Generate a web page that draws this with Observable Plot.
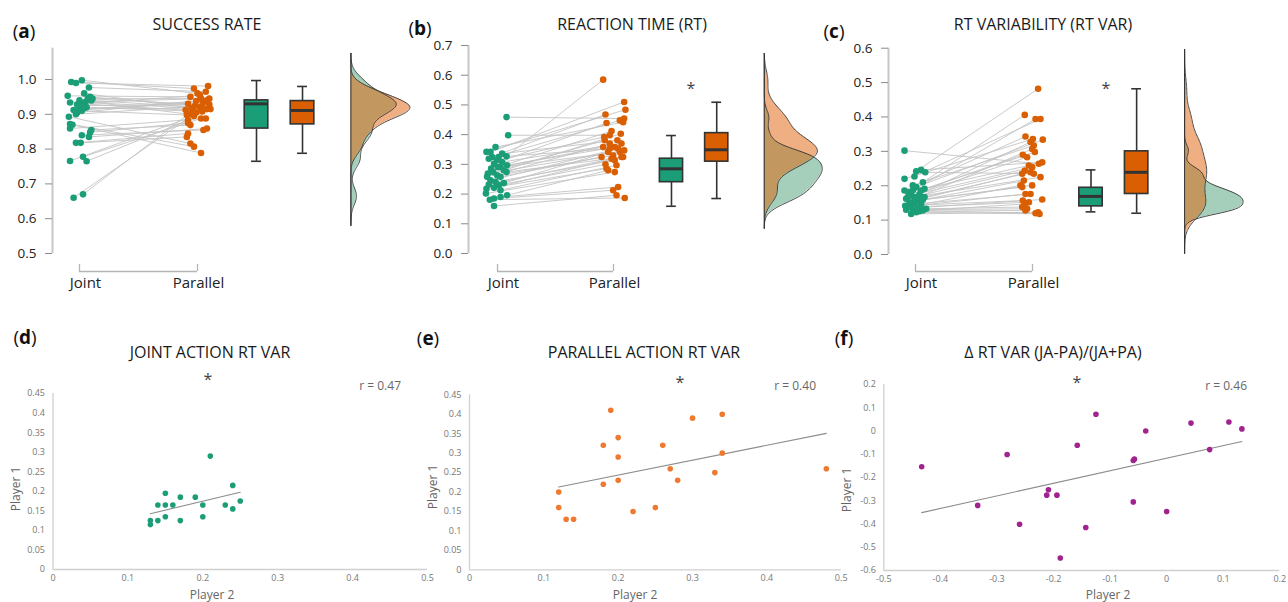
<!DOCTYPE html>
<html><head><meta charset="utf-8">
<script src="https://cdn.jsdelivr.net/npm/d3@7"></script>
<script src="https://cdn.jsdelivr.net/npm/@observablehq/plot@0.6"></script>
<style>
body{margin:0;background:#fff;}
#fig{position:relative;width:1288px;height:602px;overflow:hidden;background:#fff;font-family:'Open Sans',sans-serif;}
.lbl{position:absolute;white-space:nowrap;line-height:1;transform:translate(-50%,-50%);color:#222;}
</style></head><body><div id="fig"></div>
<script>
// ---------- DATA ----------
const conditions = ["Joint", "Parallel"];

// (a) success rate, paired per participant
const jointA = [0.993,0.990,0.998,0.977,0.953,0.934,0.912,0.912,0.945,0.950,0.940,0.935,0.930,0.925,0.920,0.928,0.918,0.940,0.893,0.872,0.870,0.859,0.855,0.848,0.835,0.840,0.818,0.818,0.766,0.778,0.765,0.660,0.670,0.960,0.905,0.910,0.945,0.900];
const jointAJit = [-0.07,-0.03,0.02,0.08,-0.10,-0.08,-0.05,-0.01,0.07,0.09,0.10,0.05,0.03,0.01,0.06,-0.02,0.04,0.00,-0.09,-0.08,-0.06,-0.08,0.10,0.09,0.08,0.02,-0.03,0.01,-0.08,0.03,0.06,-0.05,0.03,0.04,-0.02,0.02,0.11,-0.03];
const parallelA = [0.974,0.981,0.960,0.965,0.950,0.945,0.940,0.935,0.930,0.925,0.920,0.915,0.912,0.928,0.908,0.955,0.915,0.900,0.816,0.807,0.789,0.888,0.869,0.875,0.859,0.855,0.845,0.835,0.895,0.888,0.883,0.905,0.910,0.918,0.938,0.898,0.945,0.925];
const parallelAJit = [-0.03,0.09,0.00,0.07,-0.06,0.03,0.08,0.05,-0.08,-0.02,0.02,0.08,-0.10,0.10,0.04,0.02,0.11,-0.07,-0.06,-0.03,0.03,0.07,-0.06,-0.08,0.08,0.05,-0.08,-0.09,-0.03,0.03,-0.08,-0.01,-0.04,-0.05,-0.01,-0.09,0.10,0.04];
// box stats: [lower whisker, Q1, median, Q3, upper whisker]
const boxAJoint = [0.765, 0.859, 0.930, 0.940, 0.997];
const boxAParallel = [0.788, 0.871, 0.911, 0.938, 0.980];

// (b) reaction time
const jointB = [0.160,0.181,0.185,0.190,0.196,0.202,0.213,0.218,0.221,0.230,0.232,0.237,0.241,0.246,0.258,0.258,0.263,0.269,0.274,0.274,0.280,0.286,0.291,0.291,0.297,0.302,0.308,0.314,0.319,0.325,0.325,0.327,0.336,0.342,0.342,0.358,0.398,0.459];
const jointBJit = [-0.03,-0.066,-0.03,0.026,0.083,-0.10,0.026,-0.095,-0.03,0.01,-0.075,0.055,-0.017,-0.06,0.026,-0.09,-0.003,-0.083,-0.037,0.078,0.055,-0.055,0.026,0.003,0.083,-0.03,0.04,-0.003,-0.075,0.01,-0.046,0.078,0.04,-0.095,-0.06,-0.017,0.092,0.078];
const parallelB = [0.196,0.187,0.213,0.224,0.280,0.274,0.297,0.286,0.325,0.300,0.319,0.342,0.314,0.353,0.325,0.370,0.330,0.347,0.381,0.325,0.403,0.358,0.342,0.412,0.358,0.439,0.370,0.392,0.448,0.353,0.468,0.585,0.381,0.484,0.510,0.442,0.398,0.454];
const parallelBJit = [0.026,0.097,-0.003,0.04,-0.046,0.011,0.026,-0.06,0.069,-0.069,-0.017,-0.046,0.011,0.04,-0.103,-0.032,-0.003,0.092,-0.075,0.083,0.063,-0.089,0.055,-0.017,0.011,-0.06,0.069,-0.08,0.055,-0.032,-0.069,-0.089,0.034,0.103,0.092,0.083,-0.032,0.092];
const boxBJoint = [0.159, 0.240, 0.285, 0.319, 0.397];
const boxBParallel = [0.185, 0.309, 0.349, 0.405, 0.509];

// (c) RT variability
const jointC = [0.118,0.123,0.126,0.128,0.128,0.130,0.133,0.136,0.138,0.140,0.142,0.145,0.147,0.152,0.157,0.157,0.159,0.162,0.167,0.167,0.167,0.167,0.172,0.176,0.181,0.186,0.186,0.186,0.191,0.196,0.201,0.210,0.220,0.227,0.239,0.242,0.246,0.302];
const jointCJit = [-0.037,0.006,0.034,-0.023,0.063,-0.08,0.091,0.02,-0.037,-0.051,-0.088,0.048,-0.009,-0.051,0.02,-0.009,0.063,-0.08,-0.009,-0.066,0.077,0.026,-0.037,0.034,-0.06,-0.094,0.048,-0.023,0.077,0.006,-0.023,0.063,-0.094,-0.009,0.083,0.006,0.048,-0.094];
const parallelC = [0.123,0.118,0.128,0.120,0.147,0.133,0.138,0.160,0.152,0.176,0.157,0.201,0.176,0.215,0.196,0.235,0.201,0.244,0.225,0.283,0.239,0.307,0.254,0.327,0.259,0.343,0.290,0.394,0.298,0.334,0.317,0.406,0.336,0.394,0.235,0.482,0.268,0.264];
const parallelCJit = [0.048,0.06,-0.06,0.026,-0.066,-0.046,-0.088,0.083,-0.031,-0.06,-0.083,-0.103,-0.017,-0.074,-0.088,-0.088,-0.003,-0.066,0.068,-0.046,-0.017,-0.003,-0.003,-0.017,-0.031,-0.06,-0.083,0.026,0.02,0.088,0.011,-0.066,0.003,0.068,0.011,0.048,0.083,0.054];
const boxCJoint = [0.124, 0.140, 0.169, 0.194, 0.246];
const boxCParallel = [0.120, 0.176, 0.239, 0.300, 0.482];

// (d) joint action RT var: player 2 (x) vs player 1 (y)
const dPlayer2 = [0.13,0.13,0.14,0.15,0.14,0.15,0.15,0.16,0.17,0.17,0.19,0.20,0.20,0.21,0.23,0.24,0.24,0.25];
const dPlayer1 = [0.125,0.115,0.125,0.135,0.165,0.165,0.195,0.165,0.185,0.125,0.185,0.165,0.135,0.29,0.165,0.215,0.155,0.175];
// (e) parallel action RT var
const ePlayer2 = [0.12,0.12,0.13,0.14,0.18,0.18,0.19,0.20,0.20,0.20,0.22,0.25,0.26,0.27,0.28,0.30,0.33,0.34,0.34,0.48];
const ePlayer1 = [0.20,0.16,0.13,0.13,0.32,0.22,0.41,0.34,0.29,0.23,0.15,0.16,0.32,0.26,0.23,0.39,0.25,0.40,0.30,0.26];
// (f) delta RT var
const fPlayer2 = [-0.433,-0.334,-0.282,-0.260,-0.212,-0.209,-0.194,-0.188,-0.158,-0.143,-0.125,-0.059,-0.057,-0.059,-0.037,0.0,0.043,0.076,0.110,0.133];
const fPlayer1 = [-0.154,-0.320,-0.101,-0.401,-0.276,-0.253,-0.276,-0.546,-0.061,-0.415,0.072,-0.127,-0.121,-0.305,0.0,-0.346,0.034,-0.080,0.039,0.009];

const ticksA = [0.5,0.6,0.7,0.8,0.9,1.0];
const ticksB = [0,0.1,0.2,0.3,0.4,0.5,0.6,0.7];
const ticksC = [0,0.1,0.2,0.3,0.4,0.5,0.6];
const ticksDEy = [0,0.05,0.1,0.15,0.2,0.25,0.3,0.35,0.4,0.45];
const ticksDEx = [0,0.1,0.2,0.3,0.4,0.5];
const ticksFx = [-0.5,-0.4,-0.3,-0.2,-0.1,0,0.1,0.2];
const ticksFy = [0.2,0.1,0,-0.1,-0.2,-0.3,-0.4,-0.5,-0.6];

// ---------- STYLE ----------
const GREEN = "#1b9e77", ORANGE = "#d95f02";
const FONT = "'Open Sans', sans-serif";
const fig = document.getElementById("fig");

function kde(values, bw, range, n = 160) {
  const out = [];
  for (let i = 0; i <= n; i++) {
    const y = range[0] + (range[1] - range[0]) * i / n;
    const d = d3.mean(values, v => Math.exp(-0.5 * ((y - v) / bw) ** 2)) / (bw * Math.sqrt(2 * Math.PI));
    out.push({y, d});
  }
  return out;
}

function place(svg, left, top) {
  svg.style.position = "absolute";
  svg.style.left = left + "px";
  svg.style.top = top + "px";
  svg.style.background = "transparent";
  svg.style.maxWidth = "none";
  svg.style.overflow = "visible";
  fig.appendChild(svg);
}

function label(html, x, y, css = "", anchor = "middle") {
  const d = document.createElement("div");
  d.className = "lbl";
  d.innerHTML = html;
  d.style.left = x + "px";
  d.style.top = y + "px";
  if (anchor === "end") d.style.transform = "translate(-100%,-50%)";
  d.style.cssText += css;
  fig.appendChild(d);
  return d;
}

function topPanel(cfg) {
  const {left, width, height, marginLeft, marginTop, marginBottom, xDomain, yDomain, yTicks, axisTop,
         joint, jointJit, par, parJit, boxJ, boxP, bw, densRange} = cfg;
  const ppu = (height - marginTop - marginBottom) / (yDomain[1] - yDomain[0]);
  const yAt = px => yDomain[0] - (px - (height - marginBottom)) / ppu;
  const pairs = joint.map((j, i) => ({j, jx: 1 + jointJit[i], p: par[i], px: 2 + parJit[i]}));
  const base = 3.3, dw = 0.5, hw = 0.1, cap = 0.042;
  const densJ = kde(joint, bw[0], densRange), densP = kde(par, bw[1], densRange);
  const maxD = d3.max([...densJ, ...densP], d => d.d);
  const dx = d => base + d.d / maxD * dw;
  const boxMarks = [];
  [[2.5, boxJ, GREEN], [2.89, boxP, ORANGE]].forEach(([pos, s, c]) => {
    boxMarks.push(
      Plot.ruleX([pos], {y1: s[0], y2: s[4], stroke: "#333", strokeWidth: 1.6}),
      Plot.ruleY([s[0], s[4]], {x1: pos - cap, x2: pos + cap, stroke: "#333", strokeWidth: 1.6}),
      Plot.rect([s], {x1: pos - hw, x2: pos + hw, y1: d => d[1], y2: d => d[3], fill: c, stroke: "#333", strokeWidth: 1.6}),
      Plot.ruleY([s[2]], {x1: pos - hw, x2: pos + hw, stroke: "#333", strokeWidth: 3})
    );
  });
  const svg = Plot.plot({
    width, height, marginLeft, marginRight: 0, marginTop, marginBottom,
    x: {domain: xDomain, axis: null},
    y: {domain: yDomain},
    style: {fontFamily: FONT, background: "transparent", overflow: "visible"},
    marks: [
      Plot.ruleX([xDomain[0]], {y1: yDomain[0], y2: axisTop, stroke: "#c6c6c6", strokeWidth: 2}),
      Plot.axisY({ticks: yTicks, tickSize: 7, tickPadding: 9, tickFormat: d3.format(".1f"), stroke: "#8a8a8a", fill: "#222", fontSize: 13.5, label: null}),
      Plot.ruleY([yAt(271)], {x1: 1, x2: 2, stroke: "#b5b5b5", strokeWidth: 1.3}),
      Plot.ruleX([1, 2], {y1: yAt(271), y2: yAt(264), stroke: "#b5b5b5", strokeWidth: 1.3}),
      Plot.text([conditions[0]], {x: 1, y: yAt(283), dx: 6, fontSize: 15, fill: "#222"}),
      Plot.text([conditions[1]], {x: 2, y: yAt(283), dx: 1, fontSize: 15, fill: "#222"}),
      Plot.link(pairs, {x1: "jx", y1: "j", x2: "px", y2: "p", stroke: "#c4c4c4", strokeWidth: 0.9}),
      Plot.dot(pairs, {x: "jx", y: "j", r: 3.3, fill: GREEN}),
      Plot.dot(pairs, {x: "px", y: "p", r: 3.3, fill: ORANGE}),
      ...boxMarks,
      Plot.areaX(densJ, {y: "y", x1: d => base, x2: dx, fill: "#a5cfba"}),
      Plot.areaX(densP, {y: "y", x1: d => base, x2: dx, fill: "#e15f05", fillOpacity: 0.5}),
      Plot.lineX(densJ, {y: "y", x: dx, stroke: "#333", strokeWidth: 0.9}),
      Plot.lineX(densP, {y: "y", x: dx, stroke: "#333", strokeWidth: 0.9}),
      Plot.ruleX([base], {y1: densRange[0], y2: densRange[1], stroke: "#333", strokeWidth: 1})
    ]
  });
  place(svg, left, 0);
}

topPanel({left: 0, width: 430, height: 300, marginLeft: 52, marginTop: 44.2, marginBottom: 47,
  xDomain: [0.7712, 3.9746], yDomain: [0.5, 1.1], yTicks: ticksA, axisTop: 1.09,
  joint: jointA, jointJit: jointAJit, par: parallelA, parJit: parallelAJit,
  boxJ: boxAJoint, boxP: boxAParallel, bw: [0.024, 0.02], densRange: [0.58, 1.075]});
topPanel({left: 400, width: 430, height: 300, marginLeft: 68, marginTop: 45, marginBottom: 47,
  xDomain: [0.75, 3.871], yDomain: [0, 0.7], yTicks: ticksB, axisTop: 0.7,
  joint: jointB, jointJit: jointBJit, par: parallelB, parJit: parallelBJit,
  boxJ: boxBJoint, boxP: boxBParallel, bw: [0.024, 0.032], densRange: [0.084, 0.673]});
topPanel({left: 815, width: 473, height: 300, marginLeft: 73, marginTop: 47.7, marginBottom: 46,
  xDomain: [0.7692, 4.188], yDomain: [0, 0.6], yTicks: ticksC, axisTop: 0.6,
  joint: jointC, jointJit: jointCJit, par: parallelC, parJit: parallelCJit,
  boxJ: boxCJoint, boxP: boxCParallel, bw: [0.016, 0.032], densRange: [0.003, 0.596]});

const fmt = d => String(+d.toFixed(2));
function scatterPanel(cfg) {
  const {left, width, height, marginLeft, marginRight, marginTop, marginBottom, xDomain, yDomain, xTicks, yTicks, X, Y, color} = cfg;
  const rows = X.map((x, i) => ({x, y: Y[i]}));
  const svg = Plot.plot({
    width, height, marginLeft, marginRight, marginTop, marginBottom,
    x: {domain: xDomain}, y: {domain: yDomain},
    style: {fontFamily: FONT, background: "transparent", overflow: "visible"},
    marks: [
      Plot.ruleY([yDomain[0]], {x1: xDomain[0], x2: xDomain[1], stroke: "#d0d0d0", strokeWidth: 1.3}),
      Plot.ruleX([xDomain[0]], {y1: yDomain[0], y2: yDomain[1], stroke: "#d0d0d0", strokeWidth: 1.3}),
      Plot.axisX({ticks: xTicks, tickSize: 0, tickPadding: 5, tickFormat: fmt, fontSize: 9, fill: "#777", label: null}),
      Plot.axisY({ticks: yTicks, tickSize: 0, tickPadding: 8, tickFormat: fmt, fontSize: 9, fill: "#777", label: null}),
      Plot.linearRegressionY(rows, {x: "x", y: "y", ci: 0, stroke: "#8c8c8c", strokeWidth: 1.1}),
      Plot.dot(rows, {x: "x", y: "y", r: 2.8, fill: color})
    ]
  });
  place(svg, left, 310);
}

scatterPanel({left: 0, width: 440, height: 292, marginLeft: 52.5, marginRight: 13, marginTop: 83, marginBottom: 33,
  xDomain: [0, 0.5], yDomain: [0, 0.45], xTicks: ticksDEx, yTicks: ticksDEy, X: dPlayer2, Y: dPlayer1, color: "#1b9e77"});
scatterPanel({left: 420, width: 440, height: 292, marginLeft: 49, marginRight: 19.3, marginTop: 84.3, marginBottom: 32.7,
  xDomain: [0, 0.5], yDomain: [0, 0.45], xTicks: ticksDEx, yTicks: ticksDEy, X: ePlayer2, Y: ePlayer1, color: "#ee7a32"});
scatterPanel({left: 840, width: 448, height: 292, marginLeft: 43.3, marginRight: 8.7, marginTop: 74, marginBottom: 32,
  xDomain: [-0.5, 0.2], yDomain: [-0.6, 0.2], xTicks: ticksFx, yTicks: ticksFy, X: fPlayer2, Y: fPlayer1, color: "#a0238f"});

// ---------- TEXT ----------
const letter = l => `(<b>${l}</b>)`;
const LS = "font-size:19px;color:#111;";
const TS = "font-size:16px;color:#1a1a1a;";
label(letter("a"), 24, 31, LS);
label("SUCCESS RATE", 207, 24, TS);
label(letter("b"), 420, 28, LS);
label("REACTION TIME (RT)", 632, 24, TS);
label(letter("c"), 834, 31, LS);
label("RT VARIABILITY (RT VAR)", 1043, 24, TS);
label("*", 691, 88, "font-size:16px;color:#444;");
label("*", 1106, 88, "font-size:16px;color:#444;");

label(letter("d"), 25, 337, LS);
label("JOINT ACTION RT VAR", 210, 352, TS);
label(letter("e"), 428, 338, LS);
label("PARALLEL ACTION RT VAR", 644, 352, TS);
label(letter("f"), 844, 338, LS);
label("Δ RT VAR (JA-PA)/(JA+PA)", 1053, 352, TS);
label("*", 208, 379, "font-size:16px;color:#444;");
label("*", 680, 382, "font-size:16px;color:#444;");
label("*", 1077, 382, "font-size:16px;color:#444;");
label("r = 0.47", 401, 386, "font-size:12px;color:#666;", "end");
label("r = 0.40", 816, 386, "font-size:12px;color:#666;", "end");
label("r = 0.46", 1247, 386, "font-size:12px;color:#666;", "end");
const P2 = "font-size:12px;color:#666;";
label("Player 2", 212, 595, P2);
label("Player 2", 635, 595, P2);
label("Player 2", 1108, 595, P2);
const P1 = "font-size:12px;color:#666;transform:translate(-50%,-50%) rotate(-90deg);";
label("Player 1", 16, 489, P1);
label("Player 1", 433, 487, P1);
label("Player 1", 847, 490, P1);
</script>
</body></html>
